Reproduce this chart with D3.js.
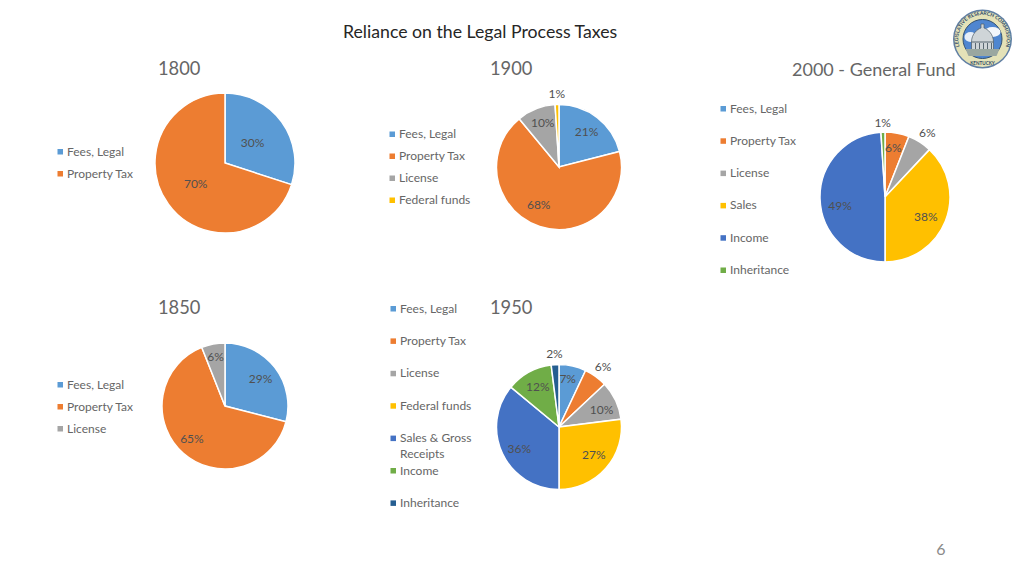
<!DOCTYPE html>
<html><head><meta charset="utf-8">
<script src="https://cdn.jsdelivr.net/npm/d3@7"></script>
<style>html,body{margin:0;padding:0;background:#fff}svg{display:block}text{font-family:Lato,"Open Sans",sans-serif}</style>
</head><body><svg id="c" width="1024" height="576"></svg>
<script>
const mainTitle = "Reliance on the Legal Process Taxes";
const years = ["1800","1900","2000 - General Fund","1850","1950"];
const cats1800 = ["Fees, Legal","Property Tax"];
const vals1800 = [30,70];
const cats1900 = ["Fees, Legal","Property Tax","License","Federal funds"];
const vals1900 = [21,68,10,1];
const cats2000 = ["Fees, Legal","Property Tax","License","Sales","Income","Inheritance"];
const vals2000 = [0,6,6,38,49,1];
const cats1850 = ["Fees, Legal","Property Tax","License"];
const vals1850 = [29,65,6];
const cats1950 = ["Fees, Legal","Property Tax","License","Federal funds","Sales & Gross|Receipts","Income","Inheritance"];
const vals1950 = [7,6,10,27,36,12,2];
const palette = ["#5B9BD5","#ED7D31","#A5A5A5","#FFC000","#4472C4","#70AD47","#255E91"];

// layout only: lr = label radius per slice, nudge = fine label offset per slice
const layouts = [
 {cats:cats1800,vals:vals1800,cx:225,cy:163,r:70,title:[158,75],legend:[67,151.5,22],lr:[34,35],nudge:[[0,0],[-1,0]]},
 {cats:cats1900,vals:vals1900,cx:559,cy:167,r:62.5,title:[490,75],legend:[399,134,22],lr:[45,43,47,73],nudge:[[0,0],[-7,-3],[1,-1],[0,0]]},
 {cats:cats2000,vals:vals2000,cx:885,cy:197,r:65,title:[792,76],legend:[730,108.5,32.3],lr:[0,50,77,45,46,74],nudge:[[0,0],[-1,0],[1,1],[-1,3],[1,7],[0,0]]},
 {cats:cats1850,vals:vals1850,cx:225,cy:406,r:63,title:[158,314],legend:[67,384.5,22],lr:[45,47,50],nudge:[[0,0],[-2,-2],[0,0]]},
 {cats:cats1950,vals:vals1950,cx:559,cy:427,r:62.5,title:[490,314],legend:[400,308.5,32.4],lr:[49,75,46,45,46,46,73],nudge:[[-2,0],[0,0],[1,2],[1,-2],[2,2],[1,0],[0,0]]}
];
const svg = d3.select("#c");
const textCol = "#666666", labelCol = "#505050";

svg.append("text").attr("x",343).attr("y",38).attr("font-size",17.7).attr("fill","#262626").text(mainTitle);
svg.append("text").attr("x",941).attr("y",555).attr("text-anchor","middle").attr("font-size",16).attr("fill","#8a8a8a").text("6");

layouts.forEach((L,i)=>{
  svg.append("text").attr("x",L.title[0]).attr("y",L.title[1]).attr("font-size",i===2?18:18.3).attr("fill",textCol).text(years[i]);
  const g = svg.append("g").attr("transform",`translate(${L.cx},${L.cy})`);
  const pie = d3.pie().sort(null).value(d=>d.v)(L.vals.map((v,j)=>({v,j})));
  const arc = d3.arc().innerRadius(0).outerRadius(L.r);
  g.selectAll("path").data(pie.filter(d=>d.data.v>0)).join("path")
    .attr("d",arc).attr("fill",d=>palette[d.data.j]).attr("stroke","#fff").attr("stroke-width",1.5);
  g.selectAll("text").data(pie.filter(d=>d.data.v>0)).join("text")
    .attr("transform",d=>{
      const a=(d.startAngle+d.endAngle)/2, lr=L.lr[d.data.j], n=L.nudge[d.data.j];
      return `translate(${Math.sin(a)*lr+n[0]},${-Math.cos(a)*lr+n[1]})`;
    })
    .attr("text-anchor","middle").attr("dy","0.35em").attr("font-size",12)
    .attr("fill",labelCol).text(d=>d.data.v+"%");
  const lg = svg.append("g");
  let y = L.legend[1];
  L.cats.forEach((c,j)=>{
    lg.append("rect").attr("x",L.legend[0]-9.5).attr("y",y-2.5).attr("width",5.5).attr("height",5.5).attr("fill",palette[j]);
    c.split("|").forEach((t,k)=>lg.append("text").attr("x",L.legend[0]).attr("y",y+4+k*15.5).attr("font-size",12).attr("fill",textCol).text(t));
    y += L.legend[2];
  });
});

// seal
const seal = svg.append("g").attr("transform","translate(982.5,39)");
seal.append("circle").attr("r",29.5).attr("fill","#5f7ea3");
seal.append("circle").attr("r",28).attr("fill","#e4e2b8");
seal.append("circle").attr("r",19.5).attr("fill","#4f86d0").attr("stroke","#33506f").attr("stroke-width",1);
seal.append("ellipse").attr("cx",10).attr("cy",-7).attr("rx",8).attr("ry",5).attr("fill","#f2f6fb");
seal.append("ellipse").attr("cx",-12).attr("cy",-2).attr("rx",6).attr("ry",5).attr("fill","#e6eef8");
seal.append("path").attr("d","M-11,15V3C-11,-5,-5,-10,-1.5,-11V-15H1.5V-11C5,-10,11,-5,11,3V15Z").attr("fill","#cfd5d8").attr("stroke","#4e5c66").attr("stroke-width",0.7);
seal.append("path").attr("d","M-11,3H11M-7,4V14M-3,4V14M1,4V14M5,4V14M9,4V14").attr("stroke","#5a6872").attr("stroke-width",1).attr("fill","none");
seal.append("path").attr("d","M-17,10H17L14,17H-14Z").attr("fill","#9aa7a0");
seal.append("path").attr("id","sealArc").attr("d","M-22.5,9A24.2,24.2 0 1 1 22.5,9").attr("fill","none");
seal.append("text").attr("font-size",5).attr("font-weight",700).attr("fill","#2f4a68").append("textPath").attr("href","#sealArc").attr("startOffset","50%").attr("text-anchor","middle").text("LEGISLATIVE RESEARCH COMMISSION");
seal.append("text").attr("y",26).attr("text-anchor","middle").attr("font-size",4.6).attr("font-weight",700).attr("fill","#2f4a68").text("KENTUCKY");
</script></body></html>
